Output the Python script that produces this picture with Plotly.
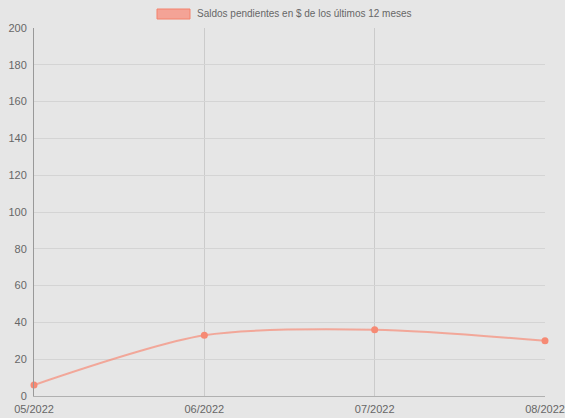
import plotly.graph_objects as go

months = ["05/2022", "06/2022", "07/2022", "08/2022"]
saldos = [6, 33, 36, 30]
series_name = "Saldos pendientes en $ de los últimos 12 meses"

bg = "#e6e6e6"
fig = go.Figure()
fig.add_trace(go.Scatter(
    x=list(range(len(months))), y=saldos, mode="lines+markers",
    line=dict(color="rgba(246,140,120,0.7)", width=2, shape="spline", smoothing=0.8),
    marker=dict(color="#f68a74", size=7),
    showlegend=False, name=series_name, cliponaxis=False,
))

fig.update_layout(
    width=565, height=418,
    margin=dict(l=34, r=20, t=28, b=22),
    paper_bgcolor=bg, plot_bgcolor=bg,
    font=dict(family="Liberation Sans, Arial, sans-serif", size=11, color="#666"),
    xaxis=dict(range=[0, 3], tickvals=list(range(len(months))), ticktext=months,
               showgrid=True, gridcolor="#cbcbcb", gridwidth=1, automargin=False,
               showline=True, linecolor="#b0b0b0", zeroline=False,
               ticks="", ticklabelstandoff=3, tickfont=dict(size=11, color="#666")),
    yaxis=dict(range=[0, 200], dtick=20, showgrid=True, gridcolor="#d4d4d4",
               showline=True, linecolor="#999", zeroline=False, automargin=False,
               ticks="", ticklabelstandoff=4, tickfont=dict(size=11, color="#666")),
    shapes=[dict(type="rect", xref="paper", yref="paper",
                 x0=(157-34)/511, x1=(190-34)/511, y0=(396-19)/368, y1=(396-9)/368,
                 fillcolor="rgba(246,150,135,0.85)", line=dict(color="#f4826c", width=1))],
    annotations=[dict(text=series_name, xref="paper", yref="paper",
                      x=(195-34)/511, y=(396-14)/368, xanchor="left", yanchor="middle",
                      showarrow=False, font=dict(size=10, color="#666"))],
)
fig.write_html("out.html")
